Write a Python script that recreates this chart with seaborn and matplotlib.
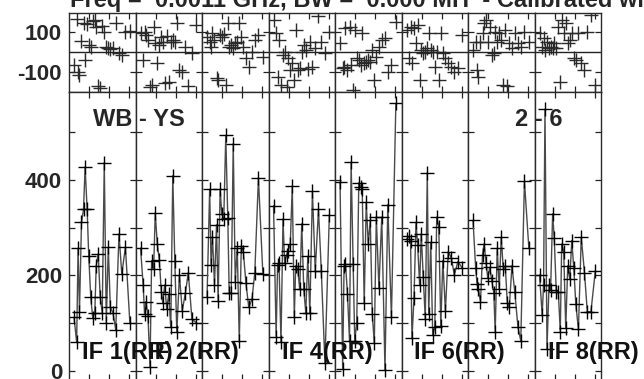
import numpy as np
import matplotlib
matplotlib.use('Agg')
import matplotlib.pyplot as plt
import seaborn as sns

# time stamps (hours from panel start), same for every IF
times = [0.25, 0.38, 0.45, 0.52, 0.62, 0.72, 0.80, 0.90, 0.98, 1.08, 1.18, 1.28, 1.35,
         1.45, 1.55, 1.65, 1.75, 1.85, 1.95, 2.05, 2.18, 2.32, 2.48, 2.62, 2.80, 3.02]

if_labels = ['IF 1(RR)', 'IF 2(RR)', 'IF 3(RR)', 'IF 4(RR)',
             'IF 5(RR)', 'IF 6(RR)', 'IF 7(RR)', 'IF 8(RR)']
shown_labels = [0, 1, 3, 5, 7]

# amplitude per IF
amp_if1 = [112, 60, 257, 124, 311, 338, 427, 338, 240, 154, 110, 122, 220, 245, 154, 122, 436, 101, 259, 133, 122, 86, 287, 203, 259, 101]
amp_if2 = [257, 180, 119, 145, 114, 9, 231, 213, 331, 266, 233, 166, 143, 180, 130, 161, 91, 409, 231, 82, 201, 126, 164, 206, 108, 101]
amp_if3 = [154, 380, 222, 280, 180, 306, 147, 381, 329, 318, 493, 320, 164, 164, 476, 187, 257, 63, 262, 250, 184, 133, 150, 206, 404, 203]
amp_if4 = [346, 72, 222, 226, 60, 318, 227, 243, 252, 266, 387, 112, 220, 213, 171, 308, 171, 122, 240, 121, 376, 210, 338, 210, 17, 327]
amp_if5 = [395, 5, 220, 224, 161, 63, 437, 224, 63, 101, 394, 385, 381, 142, 353, 266, 315, 119, 58, 322, 173, 322, 2, 348, 112, 560]
amp_if6 = [276, 282, 271, 68, 152, 311, 264, 180, 287, 196, 108, 415, 119, 269, 75, 91, 322, 301, 94, 231, 126, 250, 236, 201, 229, 215]
amp_if7 = [315, 215, 182, 171, 145, 243, 266, 226, 194, 217, 189, 164, 82, 257, 171, 280, 213, 220, 143, 133, 220, 166, 91, 63, 397, 257]
amp_if8 = [201, 117, 180, 548, 46, 180, 170, 329, 278, 166, 166, 82, 266, 250, 89, 220, 192, 273, 215, 140, 87, 280, 206, 124, 124, 210]

# phase per IF (degrees)
ph_if1 = [-63, 164, -96, -113, 58, 144, -38, 141, 36, 28, 157, 160, 127, -170, -179, 131, 103, 28, 20, 15, 20, 144, -2, -13, 103, 108]
ph_if2 = [94, -38, 103, 86, 61, -174, -162, 127, 45, -55, 36, 78, 53, -154, 81, -146, 53, 61, 53, 144, -88, -96, 28, -170, -5, 136]
ph_if3 = [78, 53, 28, 94, 61, -129, -137, 86, 78, 89, -162, 144, 28, 36, 20, 45, 53, 147, 78, 28, -30, -71, 3, 61, 86, -22]
ph_if4 = [160, 94, -121, 61, -162, -13, 3, -174, -30, -88, -55, -137, 111, -88, -79, 3, 36, 12, -84, 53, -71, 20, 180, 53, -5, 100]
ph_if5 = [45, -79, -71, 119, -88, 127, -63, -187, 111, -30, -38, -63, 94, -55, -46, -38, -46, 12, -137, -22, 28, 61, 69, -96, -63, 152]
ph_if6 = [111, -30, 127, -55, 119, 45, 136, -137, 12, -5, 3, 20, 94, 12, 3, -71, 3, -137, 94, -5, -30, -55, -71, -96, -79, 86]
ph_if7 = [12, 53, -88, -121, 53, 94, 144, 160, 53, 127, -13, -5, 103, 53, 94, 61, -162, 111, -170, 45, 20, 94, 45, 28, 103, 53]
ph_if8 = [94, 28, 69, 12, 53, 20, 28, 20, 45, 20, 127, -146, 160, 94, 144, 45, 61, 94, -30, -38, 94, -55, -88, 103, 185, -162]

amps = [amp_if1, amp_if2, amp_if3, amp_if4, amp_if5, amp_if6, amp_if7, amp_if8]
phases = [ph_if1, ph_if2, ph_if3, ph_if4, ph_if5, ph_if6, ph_if7, ph_if8]

sns.set_style('ticks')
plt.rcParams['font.family'] = ['Liberation Sans', 'DejaVu Sans']
plt.rcParams['font.weight'] = 'bold'

W, H = 644, 379
fig = plt.figure(figsize=(W / 100, H / 100), dpi=100)

x0, x1 = 69, 601
pw = (x1 - x0) / 8
ph_top, ph_bot = 13, 92
amp_bot = 380

def style_axis(ax, first):
    for s in ax.spines.values():
        s.set_color('#2a2a2a')
        s.set_linewidth(1.0)
    ax.set_xlim(0, 3.3)
    ax.set_xticks([1, 2, 3])
    ax.tick_params(axis='both', direction='in', length=4.5, width=0.9, color='#222222',
                   top=True, right=True, labelbottom=False, labelsize=16, pad=5)
    ax.tick_params(axis='y', labelleft=first)
    ax.set_xlabel('')
    ax.set_ylabel('')
    for t in ax.get_yticklabels():
        t.set_fontweight('bold')

for i in range(8):
    left = (x0 + i * pw) / W
    # phase panel
    axp = fig.add_axes([left, 1 - ph_bot / H, pw / W, (ph_bot - ph_top) / H])
    sns.scatterplot(x=times, y=phases[i], marker='+', s=95, color='#2a2a2a',
                    linewidth=1.0, ax=axp, legend=False)
    axp.axhline(0, color='#222222', lw=1.0)
    axp.set_ylim(-198, 196)
    axp.set_yticks([-100, 100])
    axp.set_yticklabels(['-100', '100'])
    style_axis(axp, i == 0)

    # amplitude panel
    axa = fig.add_axes([left, 1 - amp_bot / H, pw / W, (amp_bot - ph_bot) / H])
    sns.lineplot(x=times, y=amps[i], color='#4a4a4a', lw=1.0, marker='+', markersize=9.5,
                 mec='black', mew=1.0, sort=False, estimator=None, ax=axa)
    axa.set_ylim(-19, 584)
    axa.set_yticks([0, 100, 200, 300, 400, 500])
    axa.set_yticklabels(['0', '', '200', '', '400', ''])
    style_axis(axa, i == 0)
    if i in shown_labels:
        fig.text((x0 + i * pw + 13) / W, 1 - 359 / H, if_labels[i], fontsize=17,
                 fontweight='bold', color='#111111', va='baseline', ha='left')

fig.text(93 / W, 1 - 126 / H, 'WB - YS', fontsize=17, fontweight='bold', va='baseline')
fig.text(515 / W, 1 - 126 / H, '2 - 6', fontsize=17, fontweight='bold', va='baseline')
fig.text(70 / W, 1 - 7 / H, 'Freq =  0.0011 GHz, BW =  0.000 MH  - Calibrated with CL 1',
         fontsize=17, fontweight='bold', va='baseline', ha='left')

fig.savefig('out.png', dpi=100)
